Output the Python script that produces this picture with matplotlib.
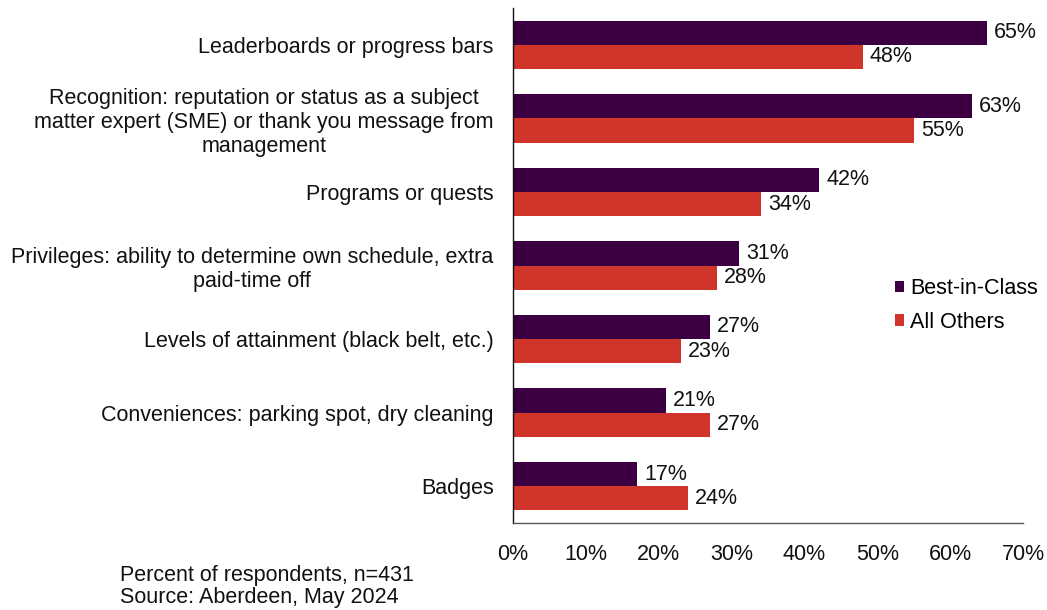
import matplotlib
matplotlib.use("Agg")
import matplotlib.pyplot as plt
import numpy as np

categories = [
    "Leaderboards or progress bars",
    "Recognition: reputation or status as a subject\nmatter expert (SME) or thank you message from\nmanagement",
    "Programs or quests",
    "Privileges: ability to determine own schedule, extra\npaid-time off",
    "Levels of attainment (black belt, etc.)",
    "Conveniences: parking spot, dry cleaning",
    "Badges",
]
best_in_class = [65, 63, 42, 31, 27, 21, 17]
all_others = [48, 55, 34, 28, 23, 27, 24]
series_names = ["Best-in-Class", "All Others"]
x_ticks = [0, 10, 20, 30, 40, 50, 60, 70]
footer = ["Percent of respondents, n=431", "Source: Aberdeen, May 2024"]

purple = "#3C0042"
red = "#D0352B"

plt.rcParams['font.family'] = ['Liberation Sans', 'DejaVu Sans']
fs = 15.5

fig = plt.figure(figsize=(10.47, 6.10), dpi=100)
ax = fig.add_axes([513/1047, 1-523/610, 510/1047, 515/610])

y = np.arange(len(categories))
h = 0.33
b1 = ax.barh(y - h/2, best_in_class, height=h, color=purple, label=series_names[0])
b2 = ax.barh(y + h/2, all_others, height=h, color=red, label=series_names[1])

for rects, vals in ((b1, best_in_class), (b2, all_others)):
    for r, v in zip(rects, vals):
        ax.text(v + 1.0, r.get_y() + r.get_height()/2, f"{v}%", va="center", ha="left",
                fontsize=fs, color="#111111")

ax.set_ylim(len(categories) - 0.5, -0.5)
ax.set_xlim(0, 70)
ax.set_xticks(x_ticks)
ax.set_xticklabels([f"{t}%" for t in x_ticks], fontsize=fs, color="#111111")
ax.set_yticks(y)
ax.set_yticklabels(categories, fontsize=fs, color="#111111", multialignment="center")
ax.tick_params(axis="both", length=0)
ax.tick_params(axis="x", pad=15)
ax.tick_params(axis="y", pad=14)
for s in ("top", "right"):
    ax.spines[s].set_visible(False)
ax.spines["left"].set_color("#111111")
ax.spines["bottom"].set_color("#555555")
ax.spines["left"].set_linewidth(1.0)
ax.spines["bottom"].set_linewidth(1.0)

leg = ax.legend(loc="upper left", bbox_to_anchor=(884/1047, 1-267/610), bbox_transform=fig.transFigure,
                frameon=False, fontsize=fs, handlelength=0.42, handleheight=0.42,
                handletextpad=0.3, labelspacing=0.6, borderpad=0)

fig.text(120/1047, 1-575/610, footer[0], fontsize=fs, va="center", ha="left", color="#111111")
fig.text(120/1047, 1-598/610, footer[1], fontsize=fs, va="center", ha="left", color="#111111")

fig.savefig("out.png", dpi=100)
